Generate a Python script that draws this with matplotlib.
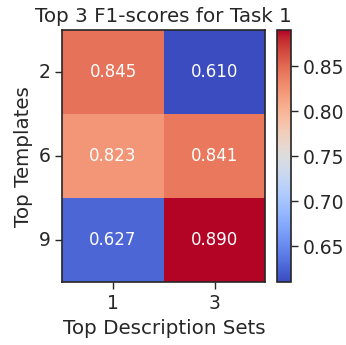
import numpy as np
import matplotlib
matplotlib.use("Agg")
import matplotlib.pyplot as plt
import seaborn as sns

templates = ["2", "6", "9"]
desc_sets = ["1", "3"]
f1_scores = np.array([
    [0.845, 0.610],
    [0.823, 0.841],
    [0.627, 0.890],
])
cbar_ticks = [0.65, 0.70, 0.75, 0.80, 0.85]

sns.set_style("ticks")
plt.rcParams["font.family"] = ["DejaVu Sans"]
plt.rcParams["text.color"] = "#262626"
plt.rcParams["axes.labelcolor"] = "#262626"
plt.rcParams["xtick.color"] = "#262626"
plt.rcParams["ytick.color"] = "#262626"

fig = plt.figure(figsize=(3.46, 3.45), dpi=100)
ax = fig.add_axes([0.18, 0.182, 0.587, 0.731])
cax = fig.add_axes([0.80, 0.182, 0.04, 0.731])

sns.heatmap(f1_scores, ax=ax, cbar_ax=cax, cmap="coolwarm",
            annot=True, fmt=".3f", annot_kws={"color": "white", "fontsize": 12},
            xticklabels=desc_sets, yticklabels=templates)

# dark frame around the heatmap and the colorbar
for s in ax.spines.values():
    s.set_visible(True)
    s.set_color("#262626")
    s.set_linewidth(1.2)
cb = ax.collections[0].colorbar
cb.outline.set_edgecolor("#262626")
cb.outline.set_linewidth(1.2)
cb.set_ticks(cbar_ticks)
cb.ax.tick_params(labelsize=13.5, length=5, width=1)

ax.set_title("Top 3 F1-scores for Task 1", fontsize=14.3)
ax.set_xlabel("Top Description Sets", fontsize=14.3)
ax.set_ylabel("Top Templates", fontsize=14.3)
ax.tick_params(axis="both", labelsize=13.5, length=5, width=1)
ax.tick_params(axis="y", rotation=0)

fig.savefig("out.png", dpi=100)
